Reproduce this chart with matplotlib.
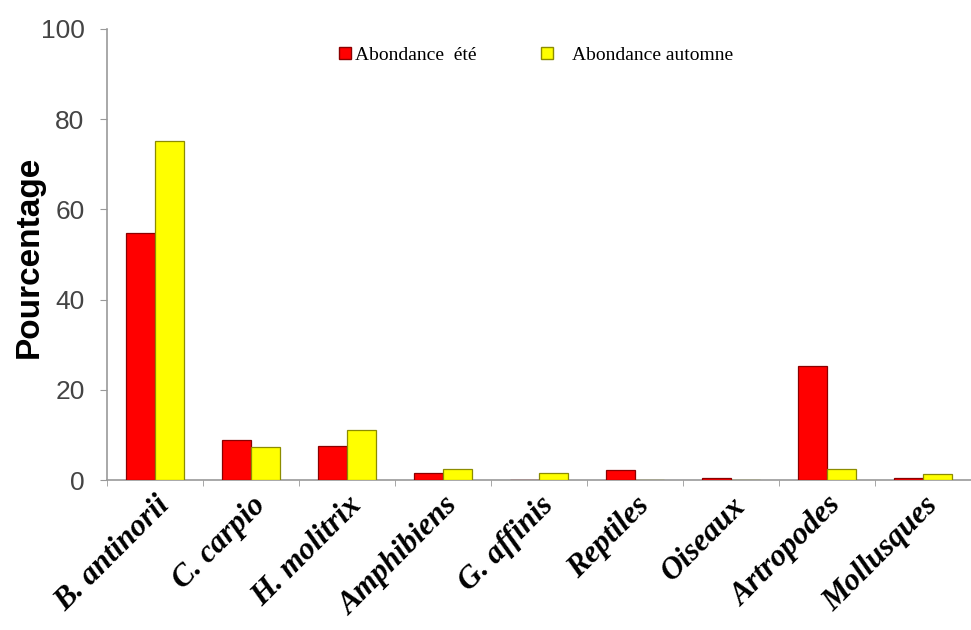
import numpy as np
import matplotlib
matplotlib.use("Agg")
import matplotlib.pyplot as plt
import matplotlib.transforms as mtransforms
from matplotlib.lines import Line2D

categories = ["B. antinorii", "C. carpio", "H. molitrix", "Amphibiens", "G. affinis",
              "Reptiles", "Oiseaux", "Artropodes", "Mollusques"]
ete = [54.8, 8.9, 7.5, 1.6, 0.0, 2.3, 0.5, 25.2, 0.5]
automne = [75.2, 7.4, 11.0, 2.4, 1.5, 0.0, 0.0, 2.4, 1.4]
yticks = [0, 20, 40, 60, 80, 100]

RED, RED_EDGE = "#ff0000", "#8b0000"
YEL, YEL_EDGE = "#ffff00", "#8c8c00"

fig = plt.figure(figsize=(9.71, 6.3), dpi=100)
ax = fig.add_axes([0.110, 0.238, 0.890, 0.716])

x = np.arange(len(categories))
w = 0.30
ax.bar(x - w / 2, ete, width=w, color=RED, edgecolor=RED_EDGE, linewidth=0.9, zorder=3)
ax.bar(x + w / 2, automne, width=w, color=YEL, edgecolor=YEL_EDGE, linewidth=0.9, zorder=3)

ax.set_ylim(0, 100)
ax.set_xlim(-0.46, 8.41)
ax.set_yticks(yticks)
ax.set_yticklabels([str(v) for v in yticks], fontsize=19, color="#444444",
                   family="Liberation Sans")

ax.set_xticks(x)
ax.set_xticklabels(categories, rotation=45, ha="right", rotation_mode="anchor",
                   fontsize=22.5, fontweight="bold", fontstyle="italic",
                   family="Liberation Serif")
shift = mtransforms.ScaledTranslation(18 / 100, -4 / 100, fig.dpi_scale_trans)
for lab in ax.get_xticklabels():
    lab.set_transform(lab.get_transform() + shift)
ax.tick_params(axis="x", length=0, pad=8)
ax.set_xticks(np.arange(-0.5, 9.0, 1.0), minor=True)
ax.tick_params(axis="x", which="minor", length=4, color="#999999")
ax.tick_params(axis="y", length=5, color="#999999", pad=11)

for s in ["top", "right"]:
    ax.spines[s].set_visible(False)
for s in ["left", "bottom"]:
    ax.spines[s].set_color("#999999")
    ax.spines[s].set_linewidth(1.2)

ax.set_ylabel("Pourcentage", fontsize=24, fontweight="bold", family="Liberation Sans")
ax.yaxis.set_label_coords(-0.072, 0.494)

legend_font = {"family": "Liberation Serif", "size": 14}
h_ete = Line2D([], [], marker="s", linestyle="none", markersize=8,
               markerfacecolor=RED, markeredgecolor=RED_EDGE)
h_aut = Line2D([], [], marker="s", linestyle="none", markersize=8,
               markerfacecolor=YEL, markeredgecolor=YEL_EDGE)
leg1 = ax.legend([h_ete], ["Abondance  été"], frameon=False, loc="center left",
                 bbox_to_anchor=(0.267, 0.942), borderpad=0, borderaxespad=0,
                 handlelength=0.8, handletextpad=0.12, prop=legend_font)
ax.add_artist(leg1)
ax.legend([h_aut], ["Abondance automne"], frameon=False, loc="center left",
          bbox_to_anchor=(0.500, 0.942), borderpad=0, borderaxespad=0,
          handlelength=0.8, handletextpad=0.9, prop=legend_font)

fig.savefig("out.png", dpi=100)
